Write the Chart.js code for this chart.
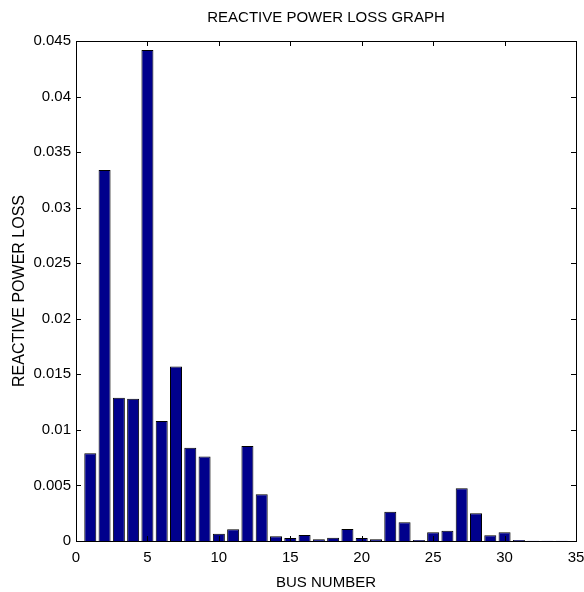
<!DOCTYPE html>
<html>
<head>
<meta charset="utf-8">
<script src="https://cdn.jsdelivr.net/npm/chart.js@4.4.1/dist/chart.umd.min.js"></script>
<style>
  html, body { margin: 0; padding: 0; background: #fff; }
  #wrap { width: 584px; height: 592px; }
</style>
</head>
<body>
<div id="wrap"><canvas id="lossChart" width="584" height="592"></canvas></div>
<script>
const busNumbers = [1, 2, 3, 4, 5, 6, 7, 8, 9, 10, 11, 12, 13, 14, 15, 16, 17, 18, 19, 20, 21, 22, 23, 24, 25, 26, 27, 28, 29, 30, 31, 32, 33, 34];
const reactiveLoss = [
    0.0079, 0.0334, 0.0129, 0.0128, 0.0442, 0.0108, 0.0157, 0.0084, 0.0076, 0.00066,
    0.00105, 0.00855, 0.0042, 0.00042, 0.00027, 0.00054, 0.00015, 0.0003, 0.00108, 0.00027,
    0.00015, 0.00264, 0.00168, 0.0001, 0.00078, 0.00093, 0.00474, 0.0025, 0.00051, 0.00078,
    0.0001, 0.00003, 0.00003, 0.00003
];
const xTickStep = 5;
const yTickStep = 0.005;

const chartTitle = 'REACTIVE POWER LOSS GRAPH';
const xTitle = 'BUS NUMBER';
const yTitle = 'REACTIVE POWER LOSS';

const font = { family: "'Liberation Sans', Arial, sans-serif", size: 15 };

// box round the axes with matlab style inward ticks
const boxTicks = {
    id: 'boxTicks',
    afterDraw(chart) {
        const { ctx, chartArea: a, scales } = chart;
        const len = 5;
        ctx.save();
        ctx.strokeStyle = '#000';
        ctx.lineWidth = 1;
        ctx.beginPath();
        scales.x.ticks.forEach(t => {
            const px = Math.round(scales.x.getPixelForValue(t.value)) + 0.5;
            ctx.moveTo(px, a.bottom);
            ctx.lineTo(px, a.bottom - len);
            ctx.moveTo(px, a.top);
            ctx.lineTo(px, a.top + len);
        });
        scales.y.ticks.forEach(t => {
            const py = Math.round(scales.y.getPixelForValue(t.value)) + 0.5;
            ctx.moveTo(a.left, py);
            ctx.lineTo(a.left + len, py);
            ctx.moveTo(a.right, py);
            ctx.lineTo(a.right - len, py);
        });
        ctx.stroke();
        ctx.strokeRect(Math.round(a.left) + 0.5, Math.round(a.top) + 0.5,
            Math.round(a.right - a.left), Math.round(a.bottom - a.top));
        ctx.restore();
    }
};

const ctx = document.getElementById('lossChart').getContext('2d');
new Chart(ctx, {
    type: 'bar',
    data: {
        datasets: [{
            data: busNumbers.map((b, i) => ({ x: b, y: reactiveLoss[i] })),
            backgroundColor: 'rgb(0, 0, 140)',
            borderColor: '#000',
            borderWidth: 1,
            barPercentage: 0.84,
            categoryPercentage: 1.0
        }]
    },
    options: {
        responsive: false,
        animation: false,
        layout: { padding: 0 },
        plugins: {
            legend: { display: false },
            tooltip: { enabled: false }
        },
        scales: {
            x: {
                type: 'linear',
                position: 'bottom',
                min: 0,
                max: 35,
                offset: false,
                grid: { display: false, drawTicks: false, offset: false },
                border: { display: false },
                ticks: { stepSize: xTickStep, padding: 8, color: '#000', font: font, maxRotation: 0 },
                title: { display: true, text: xTitle, color: '#000', font: font, padding: { top: 0, bottom: 0 } },
                afterFit(scale) {
                    scale.height = 51;
                    scale.paddingRight = 8;
                }
            },
            xTop: {
                type: 'linear',
                position: 'top',
                min: 0,
                max: 35,
                grid: { display: false, drawTicks: false },
                border: { display: false },
                ticks: { display: false },
                title: { display: true, text: chartTitle, color: '#000', font: font, padding: { top: 9, bottom: 0 } },
                afterFit(scale) { scale.height = 41; }
            },
            y: {
                min: 0,
                max: 0.045,
                grid: { display: false, drawTicks: false },
                border: { display: false },
                ticks: {
                    stepSize: yTickStep,
                    padding: 5,
                    color: '#000',
                    font: font,
                    callback: v => String(Number(v.toFixed(3)))
                },
                title: { display: true, text: yTitle, color: '#000', font: { family: font.family, size: 16 }, padding: { top: 10, bottom: 0 } },
                afterFit(scale) { scale.width = 76; }
            }
        }
    },
    plugins: [boxTicks]
});
</script>
</body>
</html>
